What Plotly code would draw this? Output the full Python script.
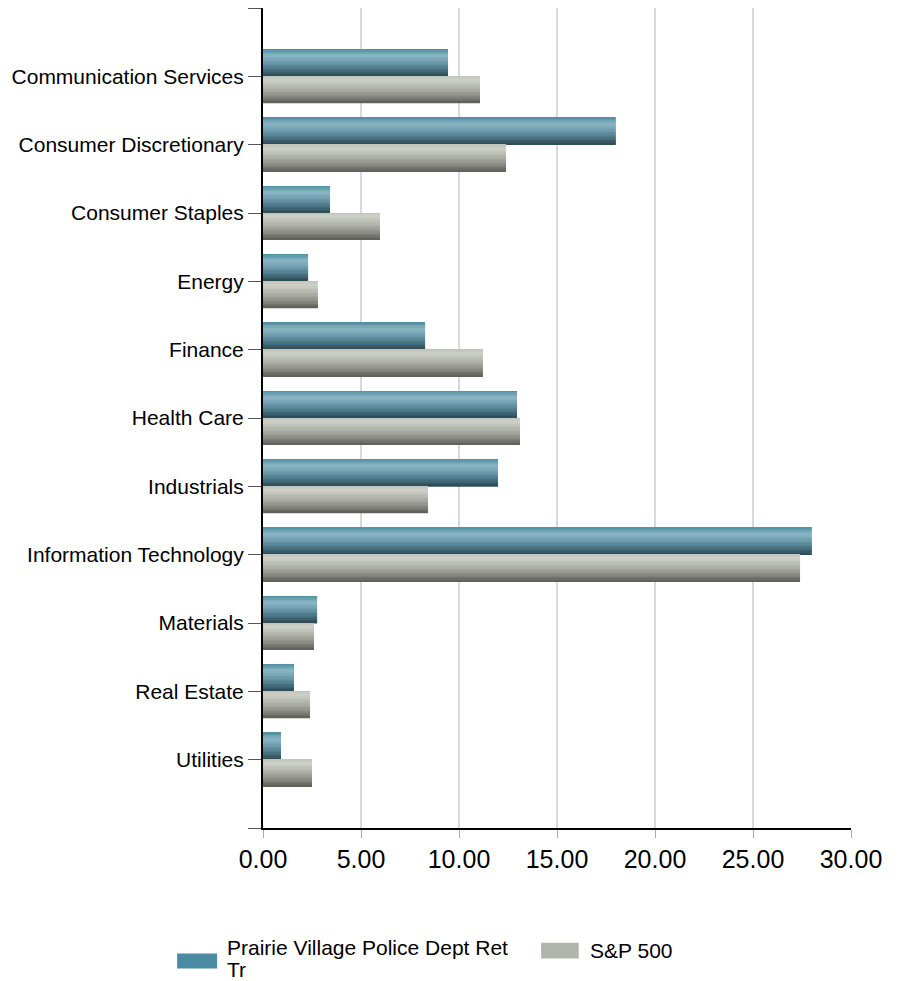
import plotly.graph_objects as go

categories = ["Communication Services", "Consumer Discretionary", "Consumer Staples",
              "Energy", "Finance", "Health Care", "Industrials",
              "Information Technology", "Materials", "Real Estate", "Utilities"]
prairie = [9.44, 18.0, 3.42, 2.3, 8.27, 12.96, 11.99, 28.0, 2.76, 1.58, 0.92]
sp500 = [11.07, 12.4, 5.97, 2.8, 11.22, 13.11, 8.42, 27.4, 2.6, 2.4, 2.5]
x_ticks = [0, 5, 10, 15, 20, 25, 30]
series_names = ["Prairie Village Police Dept Ret<br>Tr", "S&P 500"]

pos = list(range(len(categories)))


def hex2rgb(h):
    h = h.lstrip("#")
    return tuple(int(h[i:i + 2], 16) for i in (0, 2, 4))


def gradient(stops, n):
    out = []
    for k in range(n):
        t = (k + 0.5) / n
        for (t0, c0), (t1, c1) in zip(stops[:-1], stops[1:]):
            if t0 <= t <= t1:
                f = (t - t0) / (t1 - t0)
                a, b = hex2rgb(c0), hex2rgb(c1)
                out.append("rgb(%d,%d,%d)" % tuple(round(a[j] + (b[j] - a[j]) * f) for j in range(3)))
                break
    return out


blue_stops = [(0, "#4d8ea2"), (0.25, "#8cb6c4"), (0.5, "#6d9cad"), (0.75, "#4b7787"), (1, "#2c4a55")]
grey_stops = [(0, "#bfc3b9"), (0.15, "#ced1c9"), (0.5, "#acaea6"), (0.8, "#83847e"), (1, "#5d5d58")]
n = 20
blue_grad = gradient(blue_stops, n)
grey_grad = gradient(grey_stops, n)

half = 0.395
w = half / n

fig = go.Figure()
for i, c in enumerate(blue_grad):
    fig.add_trace(go.Bar(x=prairie, y=pos, orientation="h", marker=dict(color=c, line=dict(width=0)),
                         width=w * 1.3, offset=-half + i * w, showlegend=False, hoverinfo="x"))
for i, c in enumerate(grey_grad):
    fig.add_trace(go.Bar(x=sp500, y=pos, orientation="h", marker=dict(color=c, line=dict(width=0)),
                         width=w * (1.3 if i < n - 1 else 1.0), offset=i * w, showlegend=False, hoverinfo="x"))

fig.update_layout(
    width=899, height=973,
    margin=dict(l=255, r=56, t=0, b=153),
    paper_bgcolor="white", plot_bgcolor="white",
    barmode="overlay",
    font=dict(family="Liberation Sans, Arial, sans-serif", color="black"),
    xaxis=dict(range=[0, 30], tickvals=x_ticks, ticktext=[f"{v:.2f}" for v in x_ticks],
               showgrid=True, gridcolor="#d9d9d9", gridwidth=2,
               showline=True, linecolor="black", linewidth=2,
               ticks="outside", ticklen=8, tickcolor="#aaaaaa", tickwidth=1,
               tickfont=dict(size=25), zeroline=False),
    yaxis=dict(range=[11, -1], tickvals=[-1] + pos + [len(categories)],
               ticktext=[""] + categories + [""],
               showgrid=False, showline=True, linecolor="black", linewidth=2,
               ticks="outside", ticklen=13, tickcolor="#555555", tickwidth=1,
               tickfont=dict(size=21), zeroline=False),
    showlegend=False,
)

# custom legend
legend_colors = ["#4a8aa3", "#b0b5ac"]
fig.add_shape(type="rect", xref="paper", yref="paper", x0=-0.146, x1=-0.078, y0=-0.1712, y1=-0.1529,
              fillcolor=legend_colors[0], line=dict(width=0))
name_lines = series_names[0].split("<br>")
for k, line in enumerate(name_lines):
    fig.add_annotation(xref="paper", yref="paper", x=-0.065, y=-0.1458 - k * 0.0262,
                       xanchor="left", yanchor="middle",
                       text=line, showarrow=False, align="left", font=dict(size=21))
fig.add_shape(type="rect", xref="paper", yref="paper", x0=0.473, x1=0.537, y0=-0.159, y1=-0.140,
              fillcolor=legend_colors[1], line=dict(width=0))
fig.add_annotation(xref="paper", yref="paper", x=0.552, y=-0.149, xanchor="left", yanchor="middle",
                   text=series_names[1], showarrow=False, align="left", font=dict(size=21))

fig.write_html("out.html")
